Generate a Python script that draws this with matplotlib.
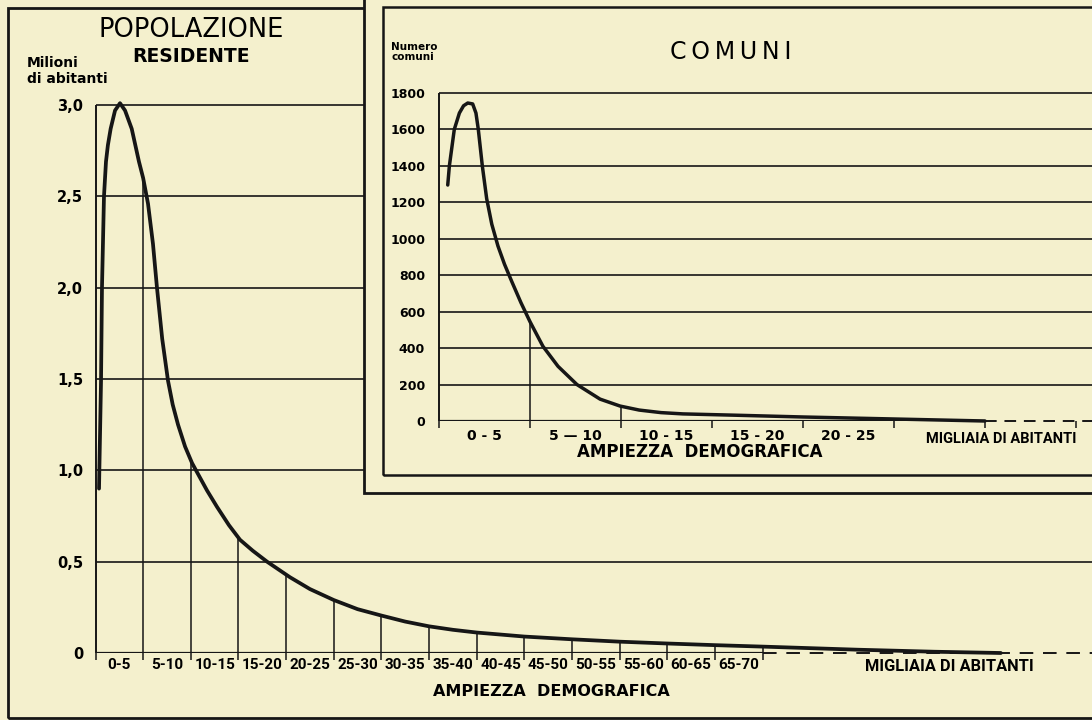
import numpy as np
import matplotlib
matplotlib.use("Agg")
import matplotlib.pyplot as plt
from matplotlib.patches import Rectangle

# main chart: resident population by size class of the comune (thousands of inhabitants)
pop_x = [0.37, 0.40, 0.58, 0.68, 0.89, 1.10, 1.30, 1.59, 2.05, 2.57, 3.10, 3.80, 4.56,
         5.0, 5.51, 6.03, 6.45, 7.0, 7.61, 8.1, 8.66, 9.4, 10.13, 10.65, 11.7, 12.75,
         14.0, 15.16, 16.5, 18.0, 20.4, 22.5, 25.0, 27.5, 30.0, 32.5, 35.0, 37.5,
         40.0, 45.0, 50.0, 55.0, 60.0, 65.0, 70.0, 80.0, 88.0, 95.0]
pop_y = [0.90, 0.99, 1.49, 2.00, 2.50, 2.69, 2.78, 2.87, 2.97, 3.01, 2.97, 2.87, 2.69,
         2.60, 2.46, 2.24, 2.00, 1.72, 1.49, 1.36, 1.25, 1.13, 1.04, 0.99, 0.89, 0.80,
         0.70, 0.62, 0.56, 0.50, 0.415, 0.35, 0.29, 0.24, 0.205, 0.172, 0.146, 0.127,
         0.112, 0.09, 0.075, 0.062, 0.052, 0.043, 0.035, 0.018, 0.007, 0.0]
pop_edges = [5, 10, 15, 20, 25, 30, 35, 40, 45, 50, 55, 60, 65, 70]
pop_classes = ["0-5", "5-10", "10-15", "15-20", "20-25", "25-30", "30-35", "35-40",
               "40-45", "45-50", "50-55", "55-60", "60-65", "65-70"]
pop_yticks = [0, 0.5, 1.0, 1.5, 2.0, 2.5, 3.0]
pop_ylabels = ["0", "0,5", "1,0", "1,5", "2,0", "2,5", "3,0"]

# inset: number of comuni by size class
com_x = [0.48, 0.57, 0.84, 1.12, 1.35, 1.58, 1.85, 2.03, 2.16, 2.38, 2.62, 2.9, 3.24,
         3.6, 4.0, 4.5, 5.0, 5.71, 6.54, 7.58, 8.85, 9.95, 11.0, 12.2, 13.4, 16.2,
         20.0, 25.0, 30.0]
com_y = [1295, 1400, 1600, 1690, 1730, 1745, 1740, 1690, 1600, 1400, 1220, 1080, 960,
         860, 765, 650, 545, 410, 300, 200, 120, 82, 60, 46, 39, 32,
         22, 11, 0]
com_edges = [5, 10]
com_ticks = [0, 5, 10, 15, 20, 25, 30, 35]
com_classes = ["0 - 5", "5 \u2014 10", "10 - 15", "15 - 20", "20 - 25"]
com_yticks = [0, 200, 400, 600, 800, 1000, 1200, 1400, 1600, 1800]

W, H = 1092, 720
paper = "#f4f0cd"
ink = "#161616"
narrow = ["Roboto", "DejaVu Sans"]


def box(x0, y0, x1, y1):
    # pixel box (top-left origin) -> figure fraction rect
    return [x0 / W, 1 - y1 / H, (x1 - x0) / W, (y1 - y0) / H]


fig = plt.figure(figsize=(W / 100, H / 100), dpi=100, facecolor=paper)

# ---- main chart ----
ax = fig.add_axes(box(95.5, 105, 1092, 653))
ax.set_facecolor("none")
xmax = (1092 - 95.5) / 9.53
ax.set_xlim(0, xmax)
ax.set_ylim(0, 3.0)
for s in ax.spines.values():
    s.set_visible(False)

ax.hlines(pop_yticks[1:], 0, xmax, color=ink, lw=1.2, clip_on=False)
ax.vlines(0, 0, 3.0, color=ink, lw=1.4, clip_on=False)
heights = np.interp(pop_edges, pop_x, pop_y)
ax.vlines(pop_edges, 0, heights, color=ink, lw=1.1)
ax.hlines(0, 0, 70, color=ink, lw=1.6)
ax.hlines(0, 70, xmax, color=ink, lw=1.4, linestyles=(0, (7, 5)), clip_on=False)
ax.plot(pop_x, pop_y, color=ink, lw=2.7, solid_capstyle="round", solid_joinstyle="round",
        clip_on=False, zorder=3)

ax.set_yticks(pop_yticks)
ax.set_yticklabels(pop_ylabels, fontweight="bold", fontsize=10.5)
ax.tick_params(axis="y", length=0, pad=9)
ax.set_xticks([0] + pop_edges)
ax.set_xticklabels([])
ax.tick_params(axis="x", which="major", length=5, width=1.1, color=ink)
ax.set_xticks([e - 2.5 for e in pop_edges], minor=True)
ax.set_xticklabels(pop_classes, minor=True, fontweight="bold", fontsize=11, family=narrow)
ax.tick_params(axis="x", which="minor", length=0, pad=3.5)
ax.annotate("MIGLIAIA DI ABITANTI", xy=(89.6, 0), xytext=(0, -4), textcoords="offset points",
            ha="center", va="top", fontweight="bold", fontsize=11.8, family=narrow)

fig.text(191 / W, 1 - 30 / H, "POPOLAZIONE", ha="center", va="center", fontsize=18.5)
fig.text(191 / W, 1 - 57 / H, "RESIDENTE", ha="center", va="center", fontsize=13.5,
         fontweight="bold")
fig.text(27 / W, 1 - 71 / H, "Milioni\ndi abitanti", ha="left", va="center", fontsize=10,
         fontweight="bold", linespacing=1.2)
fig.text(551 / W, 1 - 692 / H, "AMPIEZZA  DEMOGRAFICA", ha="center", va="center",
         fontsize=11.5, fontweight="bold")

# frame of the whole sheet
fig.add_artist(Rectangle((8 / W, 1 - 718 / H), 1.1, (718 - 8) / H, transform=fig.transFigure,
                         fill=False, lw=2.0, ec=ink))

# ---- inset panel ----
fig.add_artist(Rectangle((364 / W, 1 - 493 / H), 1.1, 1.0, transform=fig.transFigure,
                         fc=paper, lw=2.0, ec=ink, zorder=2))
fig.add_artist(Rectangle((383 / W, 1 - 475 / H), 1.1, (475 - 7) / H, transform=fig.transFigure,
                         fill=False, lw=1.8, ec=ink, zorder=2))

ax2 = fig.add_axes(box(439, 93, 1092, 421))
ax2.set_zorder(3)
ax2.set_facecolor("none")
xmax2 = (1092 - 439) / 18.2
ax2.set_xlim(0, xmax2)
ax2.set_ylim(0, 1800)
for s in ax2.spines.values():
    s.set_visible(False)

ax2.hlines(com_yticks[1:], 0, xmax2, color=ink, lw=1.2, clip_on=False)
ax2.vlines(0, 0, 1800, color=ink, lw=1.4, clip_on=False)
ax2.vlines(com_edges, 0, np.interp(com_edges, com_x, com_y), color=ink, lw=1.1)
ax2.hlines(0, 0, 30, color=ink, lw=1.6)
ax2.hlines(0, 30, xmax2, color=ink, lw=1.4, linestyles=(0, (6, 4)), clip_on=False)
ax2.plot(com_x, com_y, color=ink, lw=2.5, solid_capstyle="round", solid_joinstyle="round",
         clip_on=False, zorder=3)

ax2.set_yticks(com_yticks)
ax2.set_yticklabels([str(v) for v in com_yticks], fontweight="bold", fontsize=9)
ax2.tick_params(axis="y", length=0, pad=10)
ax2.set_xticks(com_ticks)
ax2.set_xticklabels([])
ax2.tick_params(axis="x", which="major", length=5, width=1.1, color=ink)
ax2.set_xticks([t + 2.5 for t in com_ticks[:5]], minor=True)
ax2.set_xticklabels(com_classes, minor=True, fontweight="bold", fontsize=10)
ax2.tick_params(axis="x", which="minor", length=0, pad=6)
ax2.annotate("MIGLIAIA DI ABITANTI", xy=(30.9, 0), xytext=(0, -8), textcoords="offset points",
             ha="center", va="top", fontweight="bold", fontsize=10.5, family=narrow)

fig.text(731 / W, 1 - 52 / H, "C\u2009O\u2009M\u2009U\u2009N\u2009I", ha="center", va="center",
         fontsize=17, zorder=4)
fig.text(391 / W, 1 - 52 / H, "Numero\ncomuni", ha="left", va="center", fontsize=7.5,
         fontweight="bold", linespacing=1.05, zorder=4)
fig.text(700 / W, 1 - 452 / H, "AMPIEZZA  DEMOGRAFICA", ha="center", va="center",
         fontsize=12, fontweight="bold", zorder=4)

fig.savefig("out.png", dpi=100, facecolor=paper)
